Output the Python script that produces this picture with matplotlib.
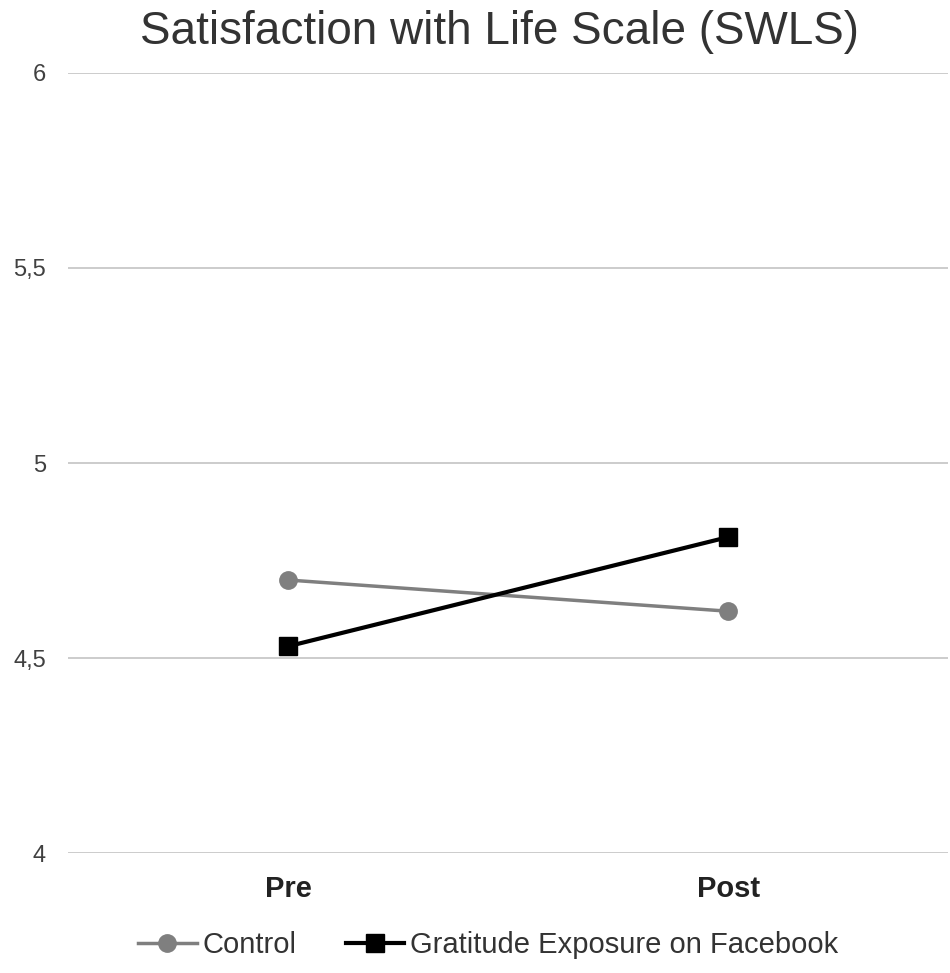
import matplotlib
matplotlib.use("Agg")
import matplotlib.pyplot as plt

plt.rcParams['font.family'] = ['Liberation Sans', 'DejaVu Sans']

# data
momentos = ["Pre", "Post"]
controle = [4.70, 4.62]
gratidao = [4.53, 4.81]
y_ticks = [4, 4.5, 5, 5.5, 6]
y_labels = ["4", "4,5", "5", "5,5", "6"]

fig = plt.figure(figsize=(9.5, 9.73), dpi=100)
ax = fig.add_axes([0.0716, 0.1233, 0.9264, 0.8017])

x = range(len(momentos))
ax.plot(x, controle, color='#7f7f7f', linewidth=2.5, marker='o', markersize=12.5,
        label='Control', zorder=3)
ax.plot(x, gratidao, color='black', linewidth=3, marker='s', markersize=12.5,
        label='Gratitude Exposure on Facebook', zorder=4)

ax.set_xlim(-0.5, 1.5)
ax.set_ylim(4, 6)
ax.set_yticks(y_ticks)
ax.set_yticklabels(y_labels, fontsize=17, color='#404040')
ax.set_xticks(list(x))
ax.set_xticklabels(momentos, fontsize=21, fontweight='bold', color='#222222')
ax.tick_params(axis='both', length=0)
ax.tick_params(axis='x', pad=16)
ax.tick_params(axis='y', pad=16)
ax.grid(axis='y', color='#c8c8c8', linewidth=1.3)
ax.set_axisbelow(True)
for lado in ax.spines.values():
    lado.set_visible(False)

fig.suptitle('Satisfaction with Life Scale (SWLS)', fontsize=33, color='#333333',
             x=0.526, y=0.967, va='center')

fig.legend(loc='center', bbox_to_anchor=(0.514, 0.029), ncol=2, frameon=False,
           fontsize=21, handlelength=2.0, columnspacing=1.7, handletextpad=0.2,
           labelcolor='#333333', borderpad=0)

fig.savefig('out.png', dpi=100)
